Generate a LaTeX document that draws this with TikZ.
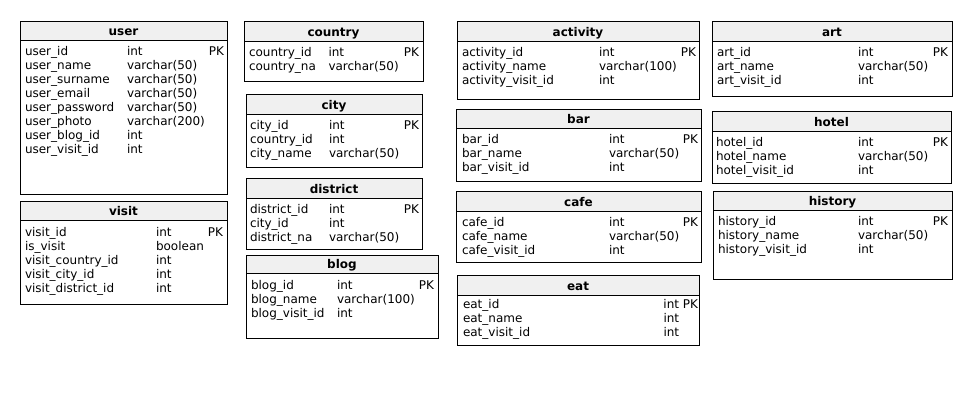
\documentclass[tikz,border=0pt]{standalone}
\usepackage{fontspec}
\setmainfont{DejaVu Sans}
\definecolor{hdrgray}{HTML}{F0F0F0}
\newcounter{cellc}
\tikzset{
  hdr/.style={draw=black, fill=hdrgray, line width=1pt, inner sep=0pt, outer sep=0pt},
  titletext/.style={inner sep=0pt, outer sep=0pt, font=\fontsize{12}{14}\selectfont\bfseries, anchor=base},
  bodybox/.style={draw=black, fill=white, line width=1pt, inner sep=0pt, outer sep=0pt},
  cell/.style={inner sep=0pt, outer sep=0pt, font=\fontsize{12}{14}\selectfont, anchor=base west},
  pk/.style={inner sep=0pt, outer sep=0pt, font=\fontsize{12}{14}\selectfont, anchor=base east}
}
% \tab{id}{x1}{y1}{x2}{yh}{y2}{title}
\newcommand\tab[7]{%
  \pgfmathsetmacro\tabw{#4-#2}%
  \pgfmathsetmacro\tabh{#5-#3}%
  \pgfmathsetmacro\tabb{#6-#5}%
  \pgfmathsetmacro\tabmx{(#2+#4)/2}%
  \pgfmathsetmacro\tabty{#5-4.5}%
  \node[bodybox, minimum width=\tabw pt, minimum height=\tabb pt, anchor=north west] (#1-body) at (#2,#5) {};
  \node[hdr, minimum width=\tabw pt, minimum height=\tabh pt, anchor=north west] (#1) at (#2,#3) {};
  \node[titletext] (#1-title) at (\tabmx,\tabty) {#7};
}
% \ent{x}{y}{text}
\newcommand\ent[3]{\stepcounter{cellc}\node[cell] (c\arabic{cellc}) at (#1,#2) {#3};}
\newcommand\pkey[3][PK]{\stepcounter{cellc}\node[pk] (c\arabic{cellc}) at (#2,#3) {#1};}
\begin{document}
\begin{tikzpicture}[x=1pt, y=-1pt]
\useasboundingbox (0,0) rectangle (971,405);
% user
\tab{user}{20}{21}{227}{40}{194}{user}
\ent{25}{55.5}{user\_id}\ent{127}{55.5}{int}\pkey{224}{55.5}
\ent{25}{69.5}{user\_name}\ent{127}{69.5}{varchar(50)}
\ent{25}{83.5}{user\_surname}\ent{127}{83.5}{varchar(50)}
\ent{25}{97.5}{user\_email}\ent{127}{97.5}{varchar(50)}
\ent{25}{111.5}{user\_password}\ent{127}{111.5}{varchar(50)}
\ent{25}{125.5}{user\_photo}\ent{127}{125.5}{varchar(200)}
\ent{25}{139.5}{user\_blog\_id}\ent{127}{139.5}{int}
\ent{25}{153.5}{user\_visit\_id}\ent{127}{153.5}{int}
% visit
\tab{visit}{20}{201}{227}{220}{304}{visit}
\ent{25}{236}{visit\_id}\ent{156}{236}{int}\pkey{223}{236}
\ent{25}{250}{is\_visit}\ent{156}{250}{boolean}
\ent{25}{264}{visit\_country\_id}\ent{156}{264}{int}
\ent{25}{278}{visit\_city\_id}\ent{156}{278}{int}
\ent{25}{292}{visit\_district\_id}\ent{156}{292}{int}
% country
\tab{country}{244}{21}{423}{41}{81}{country}
\ent{249}{56.5}{country\_id}\ent{328.5}{56.5}{int}\pkey{419}{56.5}
\ent{249}{70.5}{country\_na}\ent{328.5}{70.5}{varchar(50)}
% city
\tab{city}{246}{94}{422}{114}{167}{city}
\ent{250}{129.5}{city\_id}\ent{329}{129.5}{int}\pkey{419}{129.5}
\ent{250}{143.5}{country\_id}\ent{329}{143.5}{int}
\ent{250}{157.5}{city\_name}\ent{329}{157.5}{varchar(50)}
% district
\tab{district}{246}{178}{422}{198}{249}{district}
\ent{250}{213.5}{district\_id}\ent{329}{213.5}{int}\pkey{419}{213.5}
\ent{250}{227.5}{city\_id}\ent{329}{227.5}{int}
\ent{250}{241.5}{district\_na}\ent{329}{241.5}{varchar(50)}
% blog
\tab{blog}{246}{255}{438}{273}{338}{blog}
\ent{251}{289.5}{blog\_id}\ent{337}{289.5}{int}\pkey{434}{289.5}
\ent{251}{303.5}{blog\_name}\ent{337}{303.5}{varchar(100)}
\ent{251}{317.5}{blog\_visit\_id}\ent{337}{317.5}{int}
% activity
\tab{activity}{457}{21}{699}{41}{99}{activity}
\ent{462}{56.5}{activity\_id}\ent{599}{56.5}{int}\pkey{696}{56.5}
\ent{462}{70.5}{activity\_name}\ent{599}{70.5}{varchar(100)}
\ent{462}{84.5}{activity\_visit\_id}\ent{599}{84.5}{int}
% bar
\tab{bar}{456}{109}{701}{128}{181}{bar}
\ent{462}{143.5}{bar\_id}\ent{609}{143.5}{int}\pkey{698}{143.5}
\ent{462}{157.5}{bar\_name}\ent{609}{157.5}{varchar(50)}
\ent{462}{171.5}{bar\_visit\_id}\ent{609}{171.5}{int}
% cafe
\tab{cafe}{456}{191}{701}{211}{262}{cafe}
\ent{462}{226.5}{cafe\_id}\ent{609}{226.5}{int}\pkey{698}{226.5}
\ent{462}{240.5}{cafe\_name}\ent{609}{240.5}{varchar(50)}
\ent{462}{254.5}{cafe\_visit\_id}\ent{609}{254.5}{int}
% eat
\tab{eat}{457}{275}{699}{295}{345}{eat}
\ent{463}{308.5}{eat\_id}\pkey[int PK]{698}{308.5}
\ent{463}{322.5}{eat\_name}\ent{663.5}{322.5}{int}
\ent{463}{336.5}{eat\_visit\_id}\ent{663.5}{336.5}{int}
% art
\tab{art}{712}{21}{952}{41}{96}{art}
\ent{717}{56.5}{art\_id}\ent{858}{56.5}{int}\pkey{948}{56.5}
\ent{717}{70.5}{art\_name}\ent{858}{70.5}{varchar(50)}
\ent{717}{84.5}{art\_visit\_id}\ent{858}{84.5}{int}
% hotel
\tab{hotel}{712}{111}{951}{131}{183}{hotel}
\ent{716}{146.5}{hotel\_id}\ent{858}{146.5}{int}\pkey{948}{146.5}
\ent{716}{160.5}{hotel\_name}\ent{858}{160.5}{varchar(50)}
\ent{716}{174.5}{hotel\_visit\_id}\ent{858}{174.5}{int}
% history
\tab{history}{713}{191}{952}{210}{279}{history}
\ent{718}{225.5}{history\_id}\ent{858}{225.5}{int}\pkey{948}{225.5}
\ent{718}{239.5}{history\_name}\ent{858}{239.5}{varchar(50)}
\ent{718}{253.5}{history\_visit\_id}\ent{858}{253.5}{int}
\end{tikzpicture}
\end{document}
